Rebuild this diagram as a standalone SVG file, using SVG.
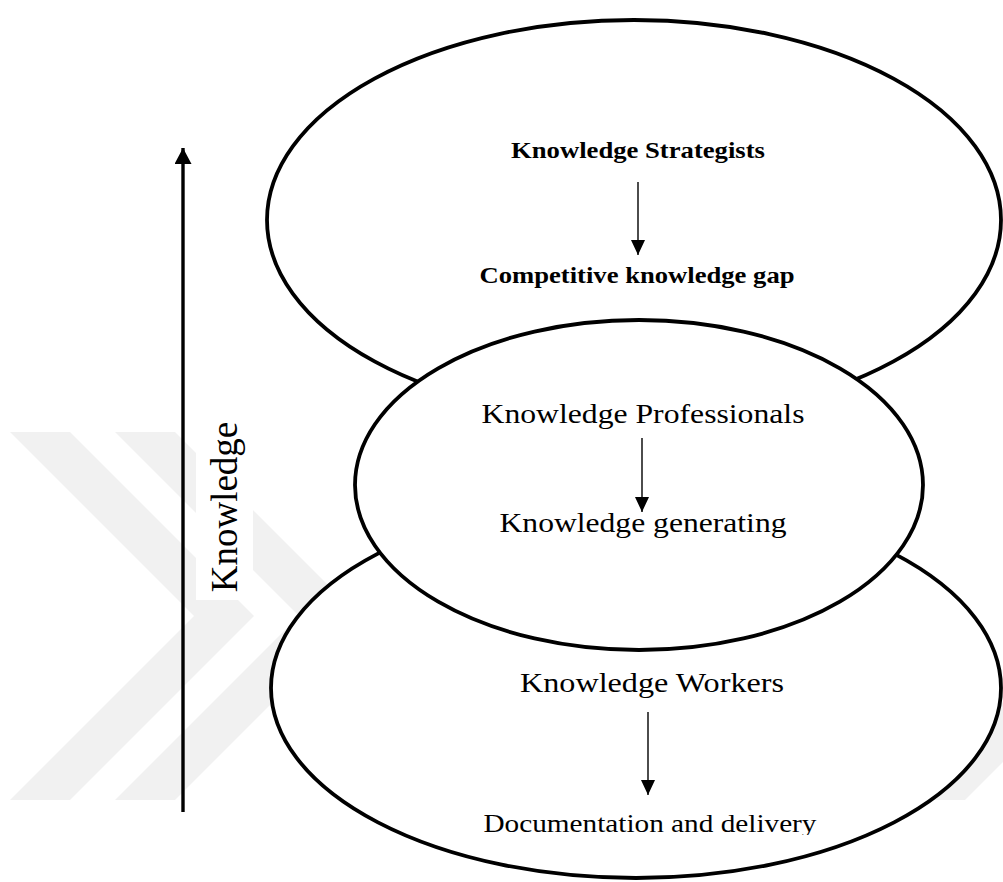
<svg xmlns="http://www.w3.org/2000/svg" width="1003" height="882" viewBox="0 0 1003 882">
<style>
.ell{fill:#ffffff;stroke:#000;stroke-width:3.8}
.t{font-family:"Liberation Serif","Times New Roman",serif;fill:#000;text-anchor:middle}
.b{font-weight:bold;font-size:23.5px}
.r{font-size:28px}
.con{stroke:#000;stroke-width:1.4;fill:none}
.wm{fill:#f1f1f1}
</style>
<defs>
<marker id="ah" viewBox="0 0 10 10" refX="10" refY="5" markerWidth="15" markerHeight="14" markerUnits="userSpaceOnUse" orient="auto" preserveAspectRatio="none">
<path d="M0,0 L10,5 L0,10 z" fill="#000"/>
</marker>
<marker id="ahb" viewBox="0 0 10 10" refX="10" refY="5" markerWidth="16" markerHeight="17" markerUnits="userSpaceOnUse" orient="auto" preserveAspectRatio="none">
<path d="M0,0 L10,5 L0,10 z" fill="#000"/>
</marker>
<clipPath id="docclip"><rect x="400" y="790" width="500" height="45"/></clipPath>
</defs>
<rect width="1003" height="882" fill="#ffffff"/>
<g id="watermark" class="wm">
<polygon points="10,432 70,432 254,616 70,800 10,800 194,616"/>
<polygon points="115,432 175,432 359,616 175,800 115,800 299,616"/>
<polygon points="905,800 965,800 1003,762 1003,702"/>
</g>
<g id="node-strategists">
<ellipse class="ell" cx="634" cy="220" rx="367" ry="200"/>
</g>
<g id="node-workers">
<ellipse class="ell" cx="636" cy="688" rx="365" ry="190"/>
</g>
<g id="node-professionals">
<ellipse class="ell" cx="639" cy="485" rx="284" ry="165"/>
</g>
<g id="labels-strategists">
<text class="t b" x="638" y="158" textLength="254" lengthAdjust="spacingAndGlyphs">Knowledge Strategists</text>
<text class="t b" x="637" y="283" textLength="315" lengthAdjust="spacingAndGlyphs">Competitive knowledge gap</text>
</g>
<g id="labels-professionals">
<text class="t r" x="643" y="423" textLength="323" lengthAdjust="spacingAndGlyphs">Knowledge Professionals</text>
<text class="t r" x="643" y="532" textLength="287" lengthAdjust="spacingAndGlyphs">Knowledge generating</text>
</g>
<g id="labels-workers">
<text class="t r" x="652" y="692" textLength="264" lengthAdjust="spacingAndGlyphs">Knowledge Workers</text>
<text class="t" x="650" y="832" font-size="26" textLength="333" lengthAdjust="spacingAndGlyphs" clip-path="url(#docclip)">Documentation and delivery</text>
</g>
<g id="axis-label">
<rect x="196" y="415" width="57" height="185" fill="#ffffff"/>
<text class="t" font-size="37" transform="translate(237,507) rotate(-90)" x="0" y="0">Knowledge</text>
</g>
<g id="connectors">
<line class="con" x1="638" y1="182" x2="638" y2="255" marker-end="url(#ah)"/>
<line class="con" x1="642" y1="438" x2="642" y2="512" marker-end="url(#ah)"/>
<line class="con" x1="648" y1="712" x2="648" y2="795" marker-end="url(#ah)"/>
<line stroke="#000" stroke-width="3.4" x1="183" y1="812" x2="183" y2="148" marker-end="url(#ahb)"/>
</g>
</svg>
